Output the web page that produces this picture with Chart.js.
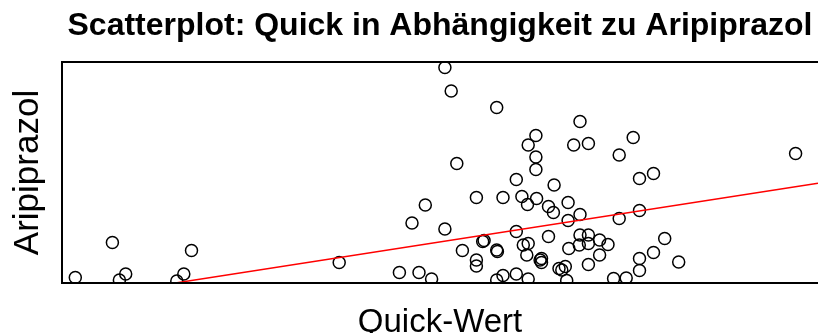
<!DOCTYPE html>
<html>
<head>
<meta charset="utf-8">
<script src="https://cdn.jsdelivr.net/npm/chart.js@4/dist/chart.umd.min.js"></script>
<style>
  html, body { margin: 0; padding: 0; background: #fff; overflow: hidden; }
</style>
</head>
<body>
<canvas id="scatterChart" width="818" height="333"></canvas>
<script>
// Quick-Wert (x) und Aripiprazol (y)
let quickWert = [
    11.9, 17.2, 19.1, 18.2, 28.5, 27.4, 26.4, 49.6, 58.2, 61.0,
    62.8, 60.0, 61.9, 64.7, 64.7, 65.6, 66.4, 67.2, 69.2, 69.2,
    69.2, 70.1, 70.3, 72.1, 72.1, 72.2, 73.0, 72.1, 73.0, 74.9,
    74.9, 74.9, 75.7, 76.5, 76.6, 77.7, 77.7, 77.7, 77.8, 75.9,
    76.6, 76.4, 76.6, 78.5, 78.5, 78.3, 79.5, 80.2, 79.5, 80.3,
    81.0, 81.4, 81.9, 82.1, 82.3, 82.3, 82.4, 83.1, 84.0, 84.0,
    83.9, 84.0, 85.2, 85.2, 85.2, 85.2, 86.8, 86.8, 88.0, 88.8,
    89.6, 89.6, 90.6, 91.6, 92.5, 94.5, 92.5, 92.5, 92.5, 94.5,
    96.1, 98.1, 114.8
];
let aripiprazol = [
    7, 77, 14, 2, 61, 14, 0, 37, 17, 17,
    4, 116, 152, 104, 427, 380, 235, 61, 167, 42,
    30, 79, 81, 347, 62, 59, 167, 2, 11, 203,
    99, 14, 169, 153, 272, 291, 248, 223, 165, 72,
    75, 52, 4, 45, 37, 42, 149, 137, 89, 192,
    25, 22, 29, 1, 157, 121, 65, 272, 319, 133,
    72, 92, 275, 92, 75, 33, 82, 52, 73, 5,
    252, 125, 6, 287, 205, 215, 141, 45, 21, 57,
    85, 38, 255
];

// lineare Regression (Aripiprazol ~ Quick)
let fitIntercept = -60.9;
let fitSlope = 2.172;

let xRange = [10, 118];
let yRange = [-4, 438];

let mainTitle = "Scatterplot: Quick in Abhängigkeit zu Aripiprazol";
let xLabel = "Quick-Wert";
let yLabel = "Aripiprazol";

let fontFamily = "'Liberation Sans', Arial, Helvetica, sans-serif";

let points = quickWert.map((q, i) => ({ x: q, y: aripiprazol[i] }));
let fitLine = xRange.map(x => ({ x: x, y: fitIntercept + fitSlope * x }));

// R-style box: left, top and bottom edges (right edge is outside the picture)
const plotFrame = {
    id: "plotFrame",
    afterDatasetsDraw(chart) {
        let a = chart.chartArea;
        let ctx = chart.ctx;
        ctx.save();
        ctx.strokeStyle = "#000";
        ctx.lineWidth = 2;
        ctx.beginPath();
        ctx.moveTo(chart.width + 2, a.top);
        ctx.lineTo(a.left, a.top);
        ctx.lineTo(a.left, a.bottom);
        ctx.lineTo(chart.width + 2, a.bottom);
        ctx.stroke();
        ctx.restore();
    }
};

new Chart(document.getElementById("scatterChart").getContext("2d"), {
    type: "scatter",
    data: {
        datasets: [
            {
                label: "Patienten",
                data: points,
                pointStyle: "circle",
                pointRadius: 6,
                pointHoverRadius: 6,
                borderColor: "#000",
                backgroundColor: "rgba(0,0,0,0)",
                borderWidth: 1.5,
                clip: 0,
                order: 2
            },
            {
                label: "Regression",
                data: fitLine,
                showLine: true,
                pointRadius: 0,
                borderColor: "#ff0000",
                borderWidth: 1.5,
                clip: 0,
                order: 1
            }
        ]
    },
    options: {
        responsive: false,
        animation: false,
        events: [],
        layout: { padding: 0, autoPadding: false },
        plugins: {
            legend: { display: false },
            tooltip: { enabled: false },
            title: {
                display: true,
                text: mainTitle,
                fullSize: false,
                color: "#000",
                font: { family: fontFamily, size: 32, weight: "bold", lineHeight: "38px" },
                padding: { top: 7, bottom: 17 }
            }
        },
        scales: {
            x: {
                type: "linear",
                min: xRange[0],
                max: xRange[1],
                ticks: { display: false },
                grid: { display: false, drawTicks: false },
                border: { display: false },
                title: {
                    display: true,
                    text: xLabel,
                    color: "#000",
                    font: { family: fontFamily, size: 33, lineHeight: "20px" },
                    padding: { top: 30, bottom: 0 }
                }
            },
            y: {
                type: "linear",
                min: yRange[0],
                max: yRange[1],
                ticks: { display: false },
                grid: { display: false, drawTicks: false },
                border: { display: false },
                title: {
                    display: true,
                    text: yLabel,
                    color: "#000",
                    font: { family: fontFamily, size: 35, lineHeight: "40px" },
                    padding: { top: 8, bottom: 14 }
                }
            }
        }
    },
    plugins: [plotFrame]
});
</script>
</body>
</html>
